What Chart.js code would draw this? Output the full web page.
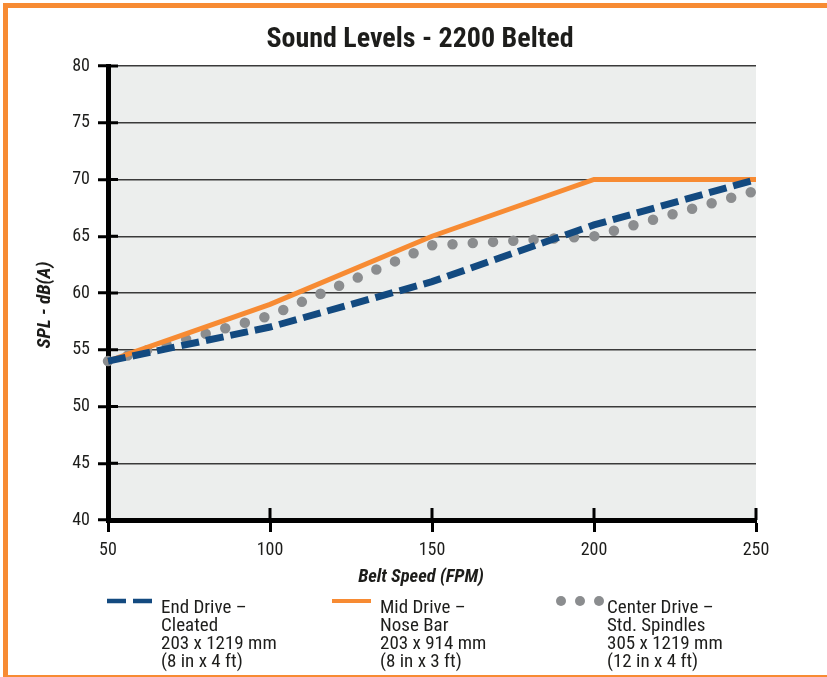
<!DOCTYPE html>
<html>
<head>
<meta charset="utf-8">
<script src="https://cdn.jsdelivr.net/npm/chart.js@4.4.1/dist/chart.umd.min.js"></script>
<style>
  html, body { margin: 0; padding: 0; background: #fff; overflow: hidden; }
  #frame { position: absolute; left: 3px; top: 3px; width: 840px; height: 667px;
           border-left: 5px solid #f78b33; border-top: 5px solid #f78b33; border-bottom: 2px solid #f78b33; }
  #wrap { position: absolute; left: 0; top: 0; width: 827px; height: 677px; }
</style>
</head>
<body>
<div id="frame"></div>
<div id="wrap"><canvas id="c" width="827" height="677"></canvas></div>
<script>
// ---- data ----
const chartTitle = "Sound Levels - 2200 Belted";
const xTitle = "Belt Speed (FPM)";
const yTitle = "SPL - dB(A)";
const beltSpeeds = [50, 100, 150, 200, 250];
const endDrive = [54, 57, 61, 66, 70];
const midDrive = [54, 59, 65, 70, 70];
const centerDrive = [54, 58, 64.2, 65, 69];
const xTicks = [50, 100, 150, 200, 250];
const yTicks = [40, 45, 50, 55, 60, 65, 70, 75, 80];
const endDriveLabel = ["End Drive \u2013", "Cleated", "203 x 1219 mm", "(8 in x 4 ft)"];
const midDriveLabel = ["Mid Drive \u2013", "Nose Bar", "203 x 914 mm", "(8 in x 3 ft)"];
const centerDriveLabel = ["Center Drive \u2013", "Std. Spindles", "305 x 1219 mm", "(12 in x 4 ft)"];

const FF = "'Liberation Sans Narrow', 'Roboto Condensed', 'DejaVu Sans Condensed', 'Liberation Sans', sans-serif";
const BLUE = '#134a80', ORANGE = '#f78b33', GRAY = '#8b8d8f', TXT = '#1d1d1b';

const toXY = arr => beltSpeeds.map((s, i) => ({x: s, y: arr[i]}));

const decor = {
  id: 'decor',
  beforeDraw(chart) {
    const {ctx, chartArea: a} = chart;
    ctx.save();
    ctx.fillStyle = '#eceeed';
    ctx.fillRect(a.left, a.top, a.right - a.left, a.bottom - a.top);
    ctx.restore();
  },
  beforeDatasetsDraw(chart) {
    const {ctx, chartArea: a, scales} = chart;
    ctx.save();
    ctx.strokeStyle = '#000';
    ctx.lineWidth = 3;
    yTicks.forEach(v => {
      const y = scales.y.getPixelForValue(v);
      ctx.beginPath(); ctx.moveTo(a.left, y); ctx.lineTo(a.left + 10, y); ctx.stroke();
    });
    xTicks.forEach(v => {
      const x = scales.x.getPixelForValue(v);
      ctx.beginPath(); ctx.moveTo(x, a.bottom); ctx.lineTo(x, a.bottom - 12); ctx.stroke();
    });
    ctx.restore();
  },
  afterDraw(chart) {
    const {ctx} = chart;
    ctx.save();
    ctx.fillStyle = TXT;
    // title
    ctx.font = "bold 28px " + FF;
    ctx.textAlign = 'center'; ctx.textBaseline = 'middle';
    ctx.fillText(chartTitle, 420, 40);
    // x title
    ctx.font = "italic bold 18.5px " + FF;
    ctx.fillText(xTitle, 421, 577);
    // y title
    ctx.save();
    ctx.font = "italic bold 19px " + FF;
    ctx.translate(45, 305);
    ctx.rotate(-Math.PI / 2);
    ctx.fillText(yTitle, 0, 0);
    ctx.restore();
    // legend
    const items = [
      {ds: 0, mx: 107, tx: 161, text: endDriveLabel},
      {ds: 1, mx: 332, tx: 380, text: midDriveLabel},
      {ds: 2, mx: 557, tx: 607, text: centerDriveLabel}
    ];
    const my = 601;
    items.forEach(it => {
      const d = chart.data.datasets[it.ds];
      ctx.save();
      ctx.strokeStyle = d.borderColor;
      if (it.ds === 0) {
        ctx.lineWidth = 4.5; ctx.setLineDash([19, 7]); ctx.lineCap = 'butt';
        ctx.beginPath(); ctx.moveTo(it.mx, my); ctx.lineTo(it.mx + 46, my); ctx.stroke();
      } else if (it.ds === 1) {
        ctx.lineWidth = 4; ctx.lineCap = 'butt';
        ctx.beginPath(); ctx.moveTo(it.mx, my); ctx.lineTo(it.mx + 39, my); ctx.stroke();
      } else {
        ctx.fillStyle = d.borderColor;
        [4, 23, 42].forEach(dx => { ctx.beginPath(); ctx.arc(it.mx + dx, my, 5, 0, Math.PI * 2); ctx.fill(); });
      }
      ctx.restore();
      ctx.font = "19px " + FF;
      ctx.textAlign = 'left'; ctx.textBaseline = 'alphabetic';
      it.text.forEach((line, i) => ctx.fillText(line, it.tx, 613 + i * 18));
    });
    ctx.restore();
  }
};

Chart.defaults.font.family = FF;
Chart.defaults.color = TXT;

new Chart(document.getElementById('c'), {
  type: 'line',
  data: {
    datasets: [
      { label: endDriveLabel.join(' '), data: toXY(endDrive), borderColor: BLUE, borderWidth: 7,
        borderDash: [18, 7], borderCapStyle: 'butt', pointRadius: 0, tension: 0, clip: false, fill: false },
      { label: midDriveLabel.join(' '), data: toXY(midDrive), borderColor: ORANGE, borderWidth: 5,
        pointRadius: 0, tension: 0, clip: false, fill: false },
      { label: centerDriveLabel.join(' '), data: toXY(centerDrive), borderColor: GRAY, borderWidth: 10.5,
        borderDash: [0, 20.3], borderCapStyle: 'round', pointRadius: 0, tension: 0, clip: false, fill: false }
    ]
  },
  options: {
    responsive: false,
    animation: false,
    events: [],
    layout: { padding: { top: 66, left: 0, right: 71, bottom: 97 } },
    plugins: { legend: { display: false }, tooltip: { enabled: false }, title: { display: false } },
    scales: {
      x: {
        type: 'linear', min: 50, max: 250,
        afterBuildTicks: s => { s.ticks = xTicks.map(v => ({value: v})); },
        afterFit: s => { s.height = 60; },
        ticks: { font: { size: 18 }, color: TXT, padding: 8, maxRotation: 0 },
        grid: { drawOnChartArea: false, drawTicks: true, tickLength: 12, tickWidth: 3, tickColor: '#000' },
        border: { display: true, color: '#000', width: 5 }
      },
      y: {
        min: 40, max: 80,
        afterBuildTicks: s => { s.ticks = yTicks.map(v => ({value: v})); },
        afterFit: s => { s.width = 108; },
        ticks: { font: { size: 18 }, color: TXT, padding: 8 },
        grid: { color: '#3a3a3a', lineWidth: 1.5, drawTicks: true, tickLength: 10, tickWidth: 3, tickColor: '#000' },
        border: { display: true, color: '#000', width: 5 }
      }
    }
  },
  plugins: [decor]
});
</script>
</body>
</html>
